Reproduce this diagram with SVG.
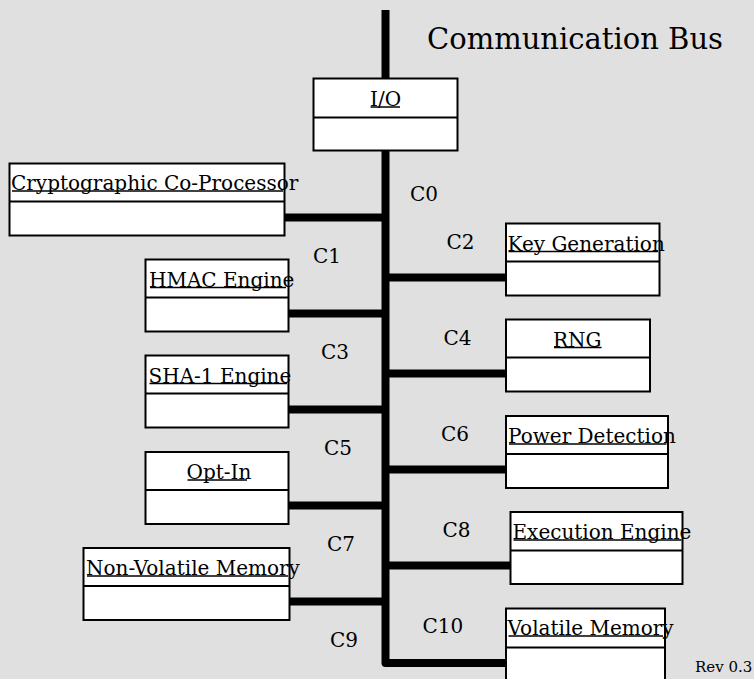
<svg xmlns="http://www.w3.org/2000/svg" width="754" height="679" viewBox="0 0 754 679">
<style>
.bg{fill:#e0e0e0}
.box{fill:#fff;stroke:#000;stroke-width:2}
.div{stroke:#000;stroke-width:2}
.ul{stroke:#000;stroke-width:1.5}
.bus{fill:none;stroke:#000;stroke-width:8;stroke-linejoin:round}
.lbl{font-family:"DejaVu Serif",serif;font-size:20px;fill:#000}
.title{font-family:"DejaVu Serif",serif;font-size:29px;fill:#000}
.rev{font-family:"DejaVu Serif",serif;font-size:15px;fill:#000}
</style>
<rect class="bg" x="0" y="0" width="754" height="679"/>
<g id="connectors">
<path class="bus" d="M385.5,10 V663 H506"/>
<path class="bus" d="M285,217.5 H385.5 M289,313.5 H385.5 M289,409.5 H385.5 M289,505.5 H385.5 M290,601.5 H385.5"/>
<path class="bus" d="M385.5,277.5 H506 M385.5,373.5 H506 M385.5,469.5 H506 M385.5,565.5 H510.5"/>
</g>
<g id="bus-labels">
<text class="title" x="427" y="49">Communication Bus</text>
<text class="lbl" x="410" y="201">C0</text>
<text class="lbl" x="313" y="263">C1</text>
<text class="lbl" x="446.5" y="248.5">C2</text>
<text class="lbl" x="321" y="358.5">C3</text>
<text class="lbl" x="443.5" y="345">C4</text>
<text class="lbl" x="324" y="455">C5</text>
<text class="lbl" x="441" y="441">C6</text>
<text class="lbl" x="327" y="551">C7</text>
<text class="lbl" x="442.5" y="537">C8</text>
<text class="lbl" x="330" y="647">C9</text>
<text class="lbl" x="422.5" y="633">C10</text>
<text class="rev" x="695" y="671.5">Rev 0.3</text>
</g>
<g id="io">
<rect class="box" x="313.5" y="78.5" width="144" height="72"/>
<line class="div" x1="313.5" y1="117.5" x2="457.5" y2="117.5"/>
<text class="lbl" x="370" y="106">I/O</text>
<line class="ul" x1="370.5" y1="107" x2="400" y2="107"/>
</g>
<g id="crypto">
<rect class="box" x="9.5" y="163.5" width="275" height="72"/>
<line class="div" x1="9.5" y1="201.5" x2="284.5" y2="201.5"/>
<text class="lbl" x="11" y="190">Cryptographic Co-Processor</text>
<line class="ul" x1="12" y1="191" x2="283" y2="191"/>
</g>
<g id="hmac">
<rect class="box" x="145.5" y="259.5" width="143" height="72"/>
<line class="div" x1="145.5" y1="297.5" x2="288.5" y2="297.5"/>
<text class="lbl" x="149" y="286.5">HMAC Engine</text>
<line class="ul" x1="150" y1="287.5" x2="286" y2="287.5"/>
</g>
<g id="sha1">
<rect class="box" x="145.5" y="355.5" width="143" height="72"/>
<line class="div" x1="145.5" y1="393.5" x2="288.5" y2="393.5"/>
<text class="lbl" x="148.5" y="382.5">SHA-1 Engine</text>
<line class="ul" x1="149.5" y1="383.5" x2="287" y2="383.5"/>
</g>
<g id="optin">
<rect class="box" x="145.5" y="452" width="143" height="72"/>
<line class="div" x1="145.5" y1="490" x2="288.5" y2="490"/>
<text class="lbl" x="186.5" y="479">Opt-In</text>
<line class="ul" x1="187.5" y1="480" x2="247" y2="480"/>
</g>
<g id="nvm">
<rect class="box" x="83.5" y="548" width="206" height="72"/>
<line class="div" x1="83.5" y1="586" x2="289.5" y2="586"/>
<text class="lbl" x="86" y="575">Non-Volatile Memory</text>
<line class="ul" x1="87" y1="576" x2="288" y2="576"/>
</g>
<g id="keygen">
<rect class="box" x="506" y="223.5" width="153.5" height="72"/>
<line class="div" x1="506" y1="261.5" x2="659.5" y2="261.5"/>
<text class="lbl" x="507.5" y="250.5">Key Generation</text>
<line class="ul" x1="508.5" y1="251.5" x2="658" y2="251.5"/>
</g>
<g id="rng">
<rect class="box" x="506" y="319.5" width="144" height="72"/>
<line class="div" x1="506" y1="357.5" x2="650" y2="357.5"/>
<text class="lbl" x="553" y="346.5">RNG</text>
<line class="ul" x1="554" y1="347.5" x2="601.5" y2="347.5"/>
</g>
<g id="power">
<rect class="box" x="506" y="416" width="162" height="72"/>
<line class="div" x1="506" y1="454" x2="668" y2="454"/>
<text class="lbl" x="508" y="443">Power Detection</text>
<line class="ul" x1="509" y1="444" x2="666.5" y2="444"/>
</g>
<g id="exec">
<rect class="box" x="510.5" y="512" width="172" height="72"/>
<line class="div" x1="510.5" y1="550.5" x2="682.5" y2="550.5"/>
<text class="lbl" x="512.5" y="539">Execution Engine</text>
<line class="ul" x1="513.5" y1="540" x2="681.5" y2="540"/>
</g>
<g id="volatile">
<rect class="box" x="506" y="608.5" width="159" height="90"/>
<line class="div" x1="506" y1="647.5" x2="665" y2="647.5"/>
<text class="lbl" x="507.5" y="635">Volatile Memory</text>
<line class="ul" x1="508.5" y1="636" x2="663" y2="636"/>
</g>
</svg>
